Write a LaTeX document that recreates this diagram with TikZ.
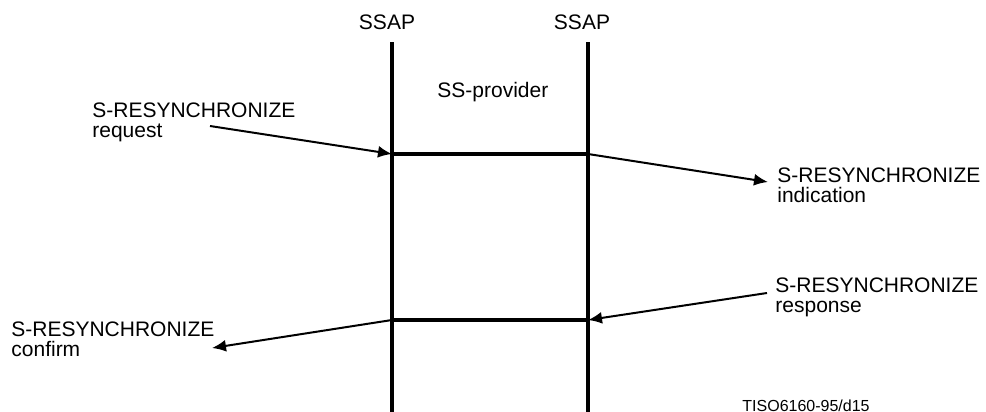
\documentclass[tikz,border=0pt]{standalone}
\usepackage{fontspec}
\setmainfont{Liberation Sans}
\usetikzlibrary{arrows.meta}
\tikzset{x=0.5pt,y=-0.5pt,
 sap/.style={line width=1.6pt},
 conn/.style={line width=1.6pt},
 prim/.style={line width=1pt,-{Latex[length=7pt,width=6pt]}},
 lbl/.style={inner sep=0pt,font=\fontsize{10.5}{10}\selectfont},
 txt/.style={lbl,align=left,anchor=north west},
 }

\begin{document}
\begin{tikzpicture}
    \useasboundingbox (0,0) rectangle (986,412);
    % service access points
    \node[lbl,anchor=base] (ssapA) at (387,30) {SSAP};
    \node[lbl,anchor=base] (ssapB) at (582,30) {SSAP};
    \node[lbl,anchor=base west] (prov) at (437,97) {SS-provider};
    \coordinate (topA) at (392,42);
    \coordinate (botA) at (392,412);
    \coordinate (topB) at (588,42);
    \coordinate (botB) at (588,412);
    \draw[sap] (topA) -- (botA);
    \draw[sap] (topB) -- (botB);
    % events
    \coordinate (reqA) at (392,154);
    \coordinate (reqB) at (588,154);
    \coordinate (rspB) at (588,320);
    \coordinate (rspA) at (392,320);
    \draw[conn] (reqA) -- (reqB);
    \draw[conn] (rspA) -- (rspB);
    % primitives
    \node[txt] (req) at (92,102) {S-RESYNCHRONIZE\\request};
    \node[txt] (ind) at (777,167) {S-RESYNCHRONIZE\\indication};
    \node[txt] (rsp) at (775,277) {S-RESYNCHRONIZE\\response};
    \node[txt] (cnf) at (11,321) {S-RESYNCHRONIZE\\confirm};
    \coordinate (reqT) at (210,126);
    \coordinate (indH) at (768,182);
    \coordinate (rspT) at (767,293);
    \coordinate (cnfH) at (212,348);
    \draw[prim] (reqT) -- (reqA);
    \draw[prim] (reqB) -- (indH);
    \draw[prim] (rspT) -- (rspB);
    \draw[prim] (rspA) -- (cnfH);
    \node[lbl,anchor=base west,font=\fontsize{8}{8}\selectfont] (tag) at (742,411) {TISO6160-95/d15};
\end{tikzpicture}
\end{document}
